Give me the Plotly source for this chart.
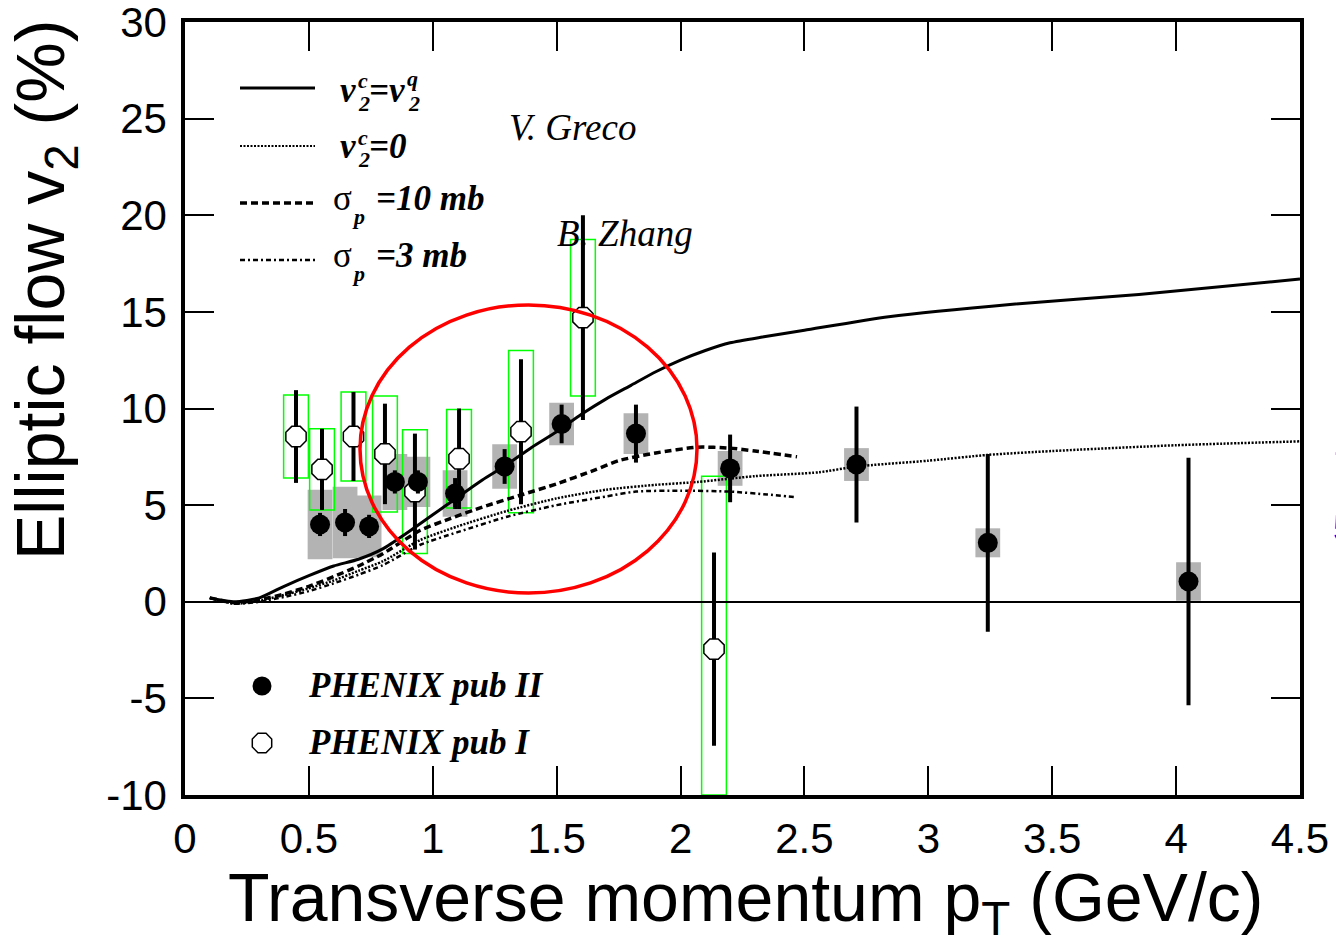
import plotly.graph_objects as go

# ---------------- data ----------------
# PHENIX pub II (filled)
pub2_pt = [0.545, 0.646, 0.743, 0.847, 0.94, 1.09, 1.29, 1.52, 1.82, 2.2, 2.71, 3.24, 4.05]
pub2_v2 = [4.0, 4.1, 3.9, 6.2, 6.2, 5.6, 7.0, 9.2, 8.7, 6.9, 7.1, 3.05, 1.05]
pub2_err = [0.6, 0.7, 0.6, 0.6, 0.6, 0.8, 0.9, 1.0, 1.5, 1.75, 3.0, 4.6, 6.4]
pub2_sys = [1.8, 1.85, 1.6, 1.45, 1.3, 1.2, 1.15, 1.1, 1.05, 0.9, 0.85, 0.75, 1.0]

# PHENIX pub I (open)
pub1_pt = [0.448, 0.553, 0.68, 0.807, 0.928, 1.106, 1.356, 1.606, 2.135]
pub1_v2 = [8.55, 6.85, 8.55, 7.65, 5.7, 7.4, 8.8, 14.7, -2.45]
pub1_err = [2.4, 2.1, 2.3, 2.6, 3.0, 2.6, 3.75, 5.3, 5.0]
pub1_sys = [2.15, 2.1, 2.3, 3.0, 3.2, 2.55, 4.2, 4.05, 8.95]

# theory: v2c = v2q (solid)
th_solid_pt = [0.1, 0.2, 0.3, 0.4, 0.5, 0.6, 0.7, 0.8, 0.9, 1.0, 1.1, 1.2, 1.3, 1.4, 1.5, 1.6,
               1.7, 1.8, 1.9, 2.0, 2.1, 2.2, 2.33, 2.5, 2.84, 3.34, 3.85, 4.5]
th_solid_v2 = [0.2, 0.0, 0.2, 0.8, 1.35, 1.85, 2.2, 2.75, 3.6, 4.5, 5.4, 6.3, 7.1, 8.0, 8.8, 9.7,
               10.5, 11.2, 11.9, 12.5, 13.0, 13.4, 13.7, 14.05, 14.75, 15.4, 15.9, 16.7]
# theory: v2c = 0 (dotted)
th_dot_pt = [0.1, 0.2, 0.3, 0.4, 0.5, 0.6, 0.7, 0.8, 0.95, 1.1, 1.3, 1.5, 1.7, 1.9, 2.07,
             2.3, 2.56, 2.71, 3.0, 3.24, 3.5, 4.0, 4.5]
th_dot_v2 = [0.2, -0.1, 0.05, 0.35, 0.7, 1.1, 1.6, 2.1, 3.2, 3.9, 4.7, 5.35, 5.8, 6.05, 6.2,
             6.5, 6.7, 7.0, 7.3, 7.6, 7.8, 8.1, 8.3]
# theory: sigma_p = 10 mb (dashed)
th_10mb_pt = [0.1, 0.2, 0.3, 0.4, 0.5, 0.6, 0.7, 0.8, 0.95, 1.07, 1.2, 1.35, 1.5, 1.65, 1.75,
              1.9, 2.07, 2.2, 2.3, 2.47]
th_10mb_v2 = [0.2, -0.05, 0.1, 0.4, 0.8, 1.3, 1.85, 2.5, 3.7, 4.3, 4.9, 5.5, 6.1, 6.8, 7.3,
              7.7, 8.0, 7.95, 7.8, 7.5]
# theory: sigma_p = 3 mb (dash-dot)
th_3mb_pt = [0.1, 0.2, 0.3, 0.4, 0.5, 0.6, 0.7, 0.8, 0.95, 1.1, 1.3, 1.5, 1.7, 1.82, 2.0,
             2.2, 2.35, 2.47]
th_3mb_v2 = [0.2, -0.1, 0.0, 0.25, 0.55, 0.95, 1.4, 1.9, 2.95, 3.6, 4.4, 5.0, 5.45, 5.7, 5.75,
             5.7, 5.55, 5.4]

x_tick_vals = [0, 0.5, 1, 1.5, 2, 2.5, 3, 3.5, 4, 4.5]
x_tick_text = ["0", "0.5", "1", "1.5", "2", "2.5", "3", "3.5", "4", "4.5"]
y_tick_vals = [-10, -5, 0, 5, 10, 15, 20, 25, 30]
y_tick_text = ["-10", "-5", "0", "5", "10", "15", "20", "25", "30"]

# ---------------- layout geometry ----------------
W, H = 1336, 950
ML, MR, MT, MB = 185, 36, 22, 155
X_RANGE = [0, 4.5]
Y_RANGE = [-10, 30]
PW, PH = W - ML - MR, H - MT - MB
BOX_HALF = 0.05

SANS = "Arial, Liberation Sans, Helvetica, sans-serif"
SERIF = "Times New Roman, Liberation Serif, serif"


def P(px, py):
    """pixel position -> data coordinates (for decorations only)"""
    x = X_RANGE[0] + (px - ML) / PW * (X_RANGE[1] - X_RANGE[0])
    y = Y_RANGE[1] - (py - MT) / PH * (Y_RANGE[1] - Y_RANGE[0])
    return x, y


fig = go.Figure()

shapes = []
# grey systematic boxes (pub II)
for x, v, s in zip(pub2_pt, pub2_v2, pub2_sys):
    shapes.append(dict(type="rect", xref="x", yref="y", x0=x - BOX_HALF, x1=x + BOX_HALF,
                       y0=max(v - s, Y_RANGE[0]), y1=v + s, fillcolor="#b3b3b3",
                       line=dict(width=0), layer="below"))
# green systematic boxes (pub I)
for x, v, s in zip(pub1_pt, pub1_v2, pub1_sys):
    shapes.append(dict(type="rect", xref="x", yref="y", x0=x - BOX_HALF, x1=x + BOX_HALF,
                       y0=max(v - s, Y_RANGE[0]), y1=v + s, fillcolor="rgba(0,0,0,0)",
                       line=dict(width=1.5, color="#00ff00"), layer="below"))

# theory curves
DOT = "2px,1.5px"
DASH = "7px,4px"
DASHDOT = "5px,3px,2px,3px"
curve_styles = [
    (th_solid_pt, th_solid_v2, 3, "solid"),
    (th_dot_pt, th_dot_v2, 2.5, DOT),
    (th_10mb_pt, th_10mb_v2, 3.5, DASH),
    (th_3mb_pt, th_3mb_v2, 2.5, DASHDOT),
]
for xs, ys, w, d in curve_styles:
    fig.add_trace(go.Scatter(x=xs, y=ys, mode="lines", line=dict(color="black", width=w, dash=d,
                                                                   shape="spline", smoothing=0.6),
                             showlegend=False, hoverinfo="skip"))

# data points
fig.add_trace(go.Scatter(
    x=pub1_pt, y=pub1_v2, mode="markers",
    marker=dict(symbol="octagon", size=22, color="white", line=dict(color="black", width=1.5)),
    error_y=dict(type="data", array=pub1_err, visible=True, thickness=4, width=0, color="black"),
    showlegend=False))
fig.add_trace(go.Scatter(
    x=pub2_pt, y=pub2_v2, mode="markers",
    marker=dict(symbol="circle", size=20, color="black"),
    error_y=dict(type="data", array=pub2_err, visible=True, thickness=4, width=0, color="black"),
    showlegend=False))

# red ellipse highlight
ex0, ey0 = P(360, 593)
ex1, ey1 = P(697, 305)
shapes.append(dict(type="circle", xref="x", yref="y", x0=ex0, x1=ex1, y0=ey0, y1=ey1,
                   line=dict(color="#ff0000", width=3.5), layer="above"))

# legend line samples (top-left)
leg_rows = [88, 146, 203, 260]
leg_dash = ["solid", DOT, DASH, DASHDOT]
leg_w = [3, 2, 3.5, 2.5]
for py, d, w in zip(leg_rows, leg_dash, leg_w):
    lx0, ly = P(240, py)
    lx1, _ = P(315, py)
    shapes.append(dict(type="line", xref="x", yref="y", x0=lx0, x1=lx1, y0=ly, y1=ly,
                       line=dict(color="black", width=w, dash=d), layer="above"))

annotations = []


def txt(px, py, text, size, family=SERIF, xanchor="left", bold=True, italic=True, color="black"):
    x, y = P(px, py)
    t = text
    if italic:
        t = "<i>" + t + "</i>"
    if bold:
        t = "<b>" + t + "</b>"
    annotations.append(dict(x=x, y=y, xref="x", yref="y", text=t, showarrow=False,
                            xanchor=xanchor, yanchor="middle",
                            font=dict(family=family, size=size, color=color)))


BIG, SMALL = 35, 22
# row 1: v2c = v2q
txt(338, 90, "v", BIG)
txt(356, 80, "c", SMALL)
txt(356, 103, "2", SMALL)
txt(367, 90, "=v", BIG)
txt(405, 78, "q", SMALL)
txt(406, 103, "2", SMALL)
# row 2: v2c = 0
txt(338, 146, "v", BIG)
txt(356, 137, "c", SMALL)
txt(356, 159, "2", SMALL)
txt(367, 146, "=0", BIG)
# row 3: sigma_p = 10 mb
txt(331, 198, "σ", BIG, bold=False, italic=False)
txt(350, 216, "p", SMALL)
txt(374, 198, "=10 mb", BIG)
# row 4: sigma_p = 3 mb
txt(331, 255, "σ", BIG, bold=False, italic=False)
txt(350, 273, "p", SMALL)
txt(374, 255, "=3 mb", BIG)

# authors
txt(572, 127, "V. Greco", 37, xanchor="center", bold=False)
txt(625, 233, "B. Zhang", 37, xanchor="center", bold=False)

# bottom legend
lgx, lgy1 = P(262, 686)
_, lgy2 = P(262, 743)
fig.add_trace(go.Scatter(x=[lgx], y=[lgy1], mode="markers",
                         marker=dict(symbol="circle", size=19, color="black"),
                         showlegend=False, hoverinfo="skip"))
fig.add_trace(go.Scatter(x=[lgx], y=[lgy2], mode="markers",
                         marker=dict(symbol="octagon", size=21, color="white",
                                     line=dict(color="black", width=1.5)),
                         showlegend=False, hoverinfo="skip"))
txt(306, 685, "PHENIX pub II", 35)
txt(306, 742, "PHENIX pub I", 35)

# axis titles
annotations.append(dict(xref="paper", yref="paper", x=(746 - ML) / PW, y=(MT + PH - 902) / PH,
                        text="Transverse momentum p<sub>T</sub> (GeV/c)", showarrow=False,
                        xanchor="center", yanchor="middle",
                        font=dict(family=SANS, size=68, color="black")))
annotations.append(dict(xref="paper", yref="paper", x=(45 - ML) / PW, y=(MT + PH - 290) / PH,
                        text="Elliptic flow v<sub>2</sub> (%)", showarrow=False, textangle=-90,
                        xanchor="center", yanchor="middle",
                        font=dict(family=SANS, size=68, color="black")))
# clipped blue characters at the right page edge
for py, ch in [(442, "1"), (528, "5")]:
    annotations.append(dict(xref="paper", yref="paper", x=(1331 - ML) / PW, y=(MT + PH - py) / PH,
                            text=ch, showarrow=False, xanchor="left", yanchor="middle",
                            font=dict(family=SANS, size=36, color="#0000ff")))

axis_common = dict(showgrid=False, ticks="inside", ticklen=29, tickwidth=2, tickcolor="black",
                   showline=True, linewidth=3.5, linecolor="black", mirror="ticks",
                   automargin=False, ticklabeloverflow="allow",
                   tickfont=dict(family=SANS, size=42, color="black"))

fig.update_layout(
    width=W, height=H,
    margin=dict(l=ML, r=MR, t=MT, b=MB, autoexpand=False),
    paper_bgcolor="white", plot_bgcolor="white",
    xaxis=dict(range=X_RANGE, tickvals=x_tick_vals, ticktext=x_tick_text, zeroline=False,
               ticklabelstandoff=4, **axis_common),
    yaxis=dict(range=Y_RANGE, tickvals=y_tick_vals, ticktext=y_tick_text, zeroline=True,
               zerolinecolor="black", zerolinewidth=1.5, ticklabelstandoff=6, **axis_common),
    shapes=shapes,
    annotations=annotations,
    showlegend=False,
)

fig.write_html("out.html")
